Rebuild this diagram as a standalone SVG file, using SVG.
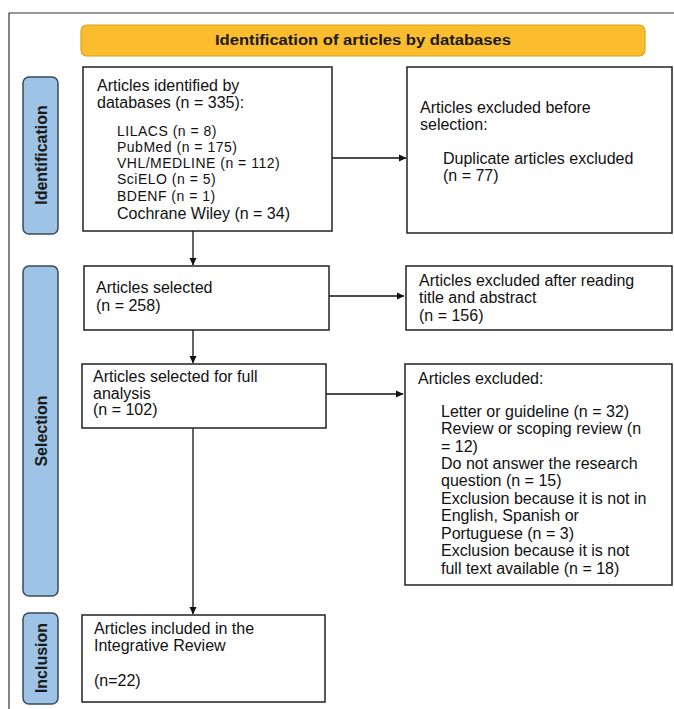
<svg xmlns="http://www.w3.org/2000/svg" width="674" height="709" viewBox="0 0 674 709">
<style>
.box{fill:#fff;stroke:#222;stroke-width:1.5}
.side{fill:#9DC3E6;stroke:#3b4a5a;stroke-width:1.5}
.t{font-family:"Liberation Sans",Arial,sans-serif;font-size:16px;fill:#111}
.s{font-family:"Liberation Sans",Arial,sans-serif;font-size:14px;fill:#111;letter-spacing:0.5px}
.sl{font-family:"Liberation Sans",Arial,sans-serif;font-size:14px;font-weight:bold;fill:#1a1a1a}
.vl{font-family:"Liberation Sans",Arial,sans-serif;font-size:16px;font-weight:bold;fill:#1a1a1a}
.ln{stroke:#111;stroke-width:1.3;fill:none;marker-end:url(#ah)}
</style>
<defs>
<marker id="ah" markerWidth="8" markerHeight="8" refX="7" refY="4" orient="auto" markerUnits="userSpaceOnUse">
<path d="M0,0.5 L7.5,4 L0,7.5 Z" fill="#111"/>
</marker>
</defs>
<rect width="674" height="709" fill="#fff"/>
<path d="M9,709 V13 H674" fill="none" stroke="#333" stroke-width="1.2"/>

<g id="header">
<rect x="81" y="25" width="564" height="31" rx="6" fill="#FBBC2D" stroke="#D9A21E" stroke-width="1.2"/>
<text x="363" y="45" text-anchor="middle" class="sl" font-size="15" textLength="296" lengthAdjust="spacingAndGlyphs">Identification  of articles by databases</text>
</g>

<g id="side-identification">
<rect class="side" x="23" y="77" width="35" height="157" rx="6"/>
<text class="vl" transform="translate(47,155) rotate(-90)" text-anchor="middle">Identification</text>
</g>
<g id="side-selection">
<rect class="side" x="23" y="266" width="35" height="330" rx="6"/>
<text class="vl" transform="translate(47,431) rotate(-90)" text-anchor="middle">Selection</text>
</g>
<g id="side-inclusion">
<rect class="side" x="23" y="613" width="35" height="91" rx="6"/>
<text class="vl" transform="translate(47,658) rotate(-90)" text-anchor="middle">Inclusion</text>
</g>

<g id="connectors">
<line class="ln" x1="332" y1="158" x2="406" y2="158"/>
<line class="ln" x1="193" y1="231" x2="193" y2="265"/>
<line class="ln" x1="329" y1="296" x2="404" y2="296"/>
<line class="ln" x1="193" y1="330" x2="193" y2="363"/>
<line class="ln" x1="326" y1="394" x2="403" y2="394"/>
<line class="ln" x1="193" y1="428" x2="193" y2="614"/>
</g>

<g id="identified">
<rect class="box" x="83" y="67" width="249" height="164"/>
<text class="t" x="97" y="91">Articles identified by</text>
<text class="t" x="97" y="108">databases (n = 335):</text>
<text class="s" x="117" y="136">LILACS (n = 8)</text>
<text class="s" x="117" y="152">PubMed (n = 175)</text>
<text class="s" x="117" y="168">VHL/MEDLINE (n = 112)</text>
<text class="s" x="117" y="184">SciELO (n = 5)</text>
<text class="s" x="117" y="201">BDENF (n = 1)</text>
<text class="t" x="117" y="219">Cochrane Wiley (n = 34)</text>
</g>

<g id="excluded-before">
<rect class="box" x="407" y="67" width="265" height="166"/>
<text class="t" x="420" y="113">Articles excluded before</text>
<text class="t" x="420" y="130">selection:</text>
<text class="t" x="443" y="164">Duplicate articles excluded</text>
<text class="t" x="443" y="181">(n = 77)</text>
</g>

<g id="selected">
<rect class="box" x="84" y="266" width="245" height="64"/>
<text class="t" x="96" y="293">Articles selected</text>
<text class="t" x="96" y="311">(n = 258)</text>
</g>

<g id="excluded-title">
<rect class="box" x="406" y="266" width="266" height="64"/>
<text class="t" x="419" y="286">Articles excluded after reading</text>
<text class="t" x="419" y="303">title and abstract</text>
<text class="t" x="419" y="321">(n = 156)</text>
</g>

<g id="full-analysis">
<rect class="box" x="82" y="364" width="244" height="64"/>
<text class="t" x="93" y="382">Articles selected for full</text>
<text class="t" x="93" y="399">analysis</text>
<text class="t" x="93" y="415">(n = 102)</text>
</g>

<g id="excluded-full">
<rect class="box" x="405" y="364" width="267" height="221"/>
<text class="t" x="418" y="384">Articles excluded:</text>
<text class="t" x="441" y="417">Letter or guideline (n = 32)</text>
<text class="t" x="441" y="434">Review or scoping review (n</text>
<text class="t" x="441" y="452">= 12)</text>
<text class="t" x="441" y="469">Do not answer the research</text>
<text class="t" x="441" y="486">question (n = 15)</text>
<text class="t" x="441" y="504">Exclusion because it is not in</text>
<text class="t" x="441" y="521">English, Spanish or</text>
<text class="t" x="441" y="539">Portuguese (n = 3)</text>
<text class="t" x="441" y="556">Exclusion because it is not</text>
<text class="t" x="441" y="574">full text available (n = 18)</text>
</g>

<g id="included">
<rect class="box" x="82" y="615" width="243" height="87"/>
<text class="t" x="94" y="634">Articles included in the</text>
<text class="t" x="94" y="651">Integrative Review</text>
<text class="t" x="94" y="686">(n=22)</text>
</g>
</svg>
